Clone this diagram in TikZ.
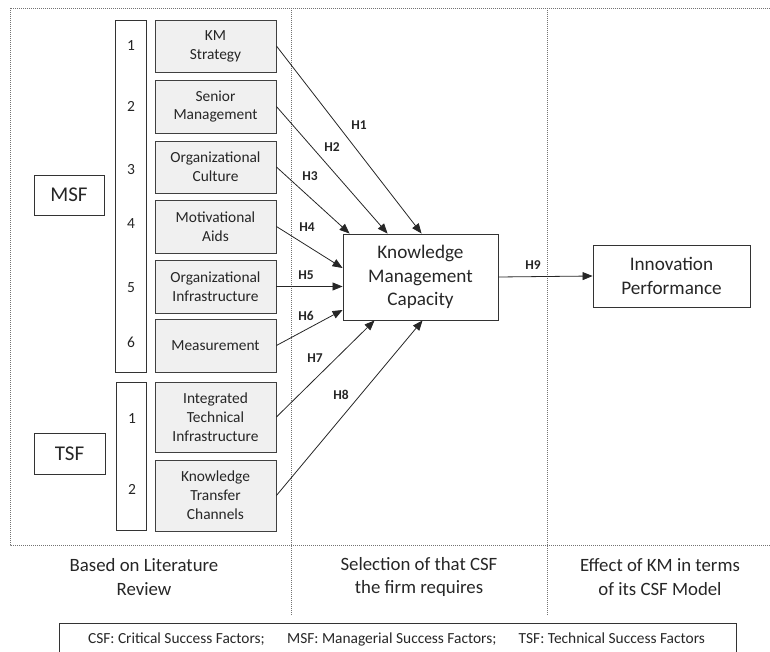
\documentclass[tikz,border=0pt]{standalone}
\usepackage{fontspec}
\setmainfont{Carlito}
\usetikzlibrary{arrows.meta,calc}
\begin{document}
\begin{tikzpicture}[x=1pt,y=-1pt,
  every node/.style={text=black!85},
  factor/.style={draw=black!75, fill=black!6, line width=0.9pt, minimum width=121pt, align=center, inner sep=0pt, font=\fontsize{15.4}{18.8}\selectfont},
  colbox/.style={draw=black!80, line width=0.9pt, minimum width=31pt, inner sep=0pt},
  bigbox/.style={draw=black!80, line width=0.9pt, align=center, inner sep=0pt, font=\fontsize{19.2}{23.5}\selectfont},
  numlab/.style={font=\fontsize{15.5}{18}\selectfont, inner sep=0pt},
  hlab/.style={font=\bfseries\fontsize{13.5}{15}\selectfont, inner sep=0pt},
  arr/.style={-{Triangle[length=10pt,width=8pt]}, line width=0.8pt, draw=black!85},
  sep/.style={draw=black!55, line width=0.8pt, dash pattern=on 1pt off 1pt},
  foot/.style={align=center, font=\fontsize{18.8}{23.5}\selectfont, inner sep=0pt}
]
\useasboundingbox (0,0) rectangle (770,652);

% dotted frame and separators
\draw[sep] (770,8) -- (10,8) -- (10,545) -- (770,545);
\draw[sep] (291,8) -- (291,615);
\draw[sep] (547,8) -- (547,615);

% group labels
\node[bigbox, minimum width=70pt, minimum height=40pt, font=\fontsize{21}{24}\selectfont] (msf) at (69,195) {MSF};
\node[bigbox, minimum width=71pt, minimum height=41pt, font=\fontsize{21}{24}\selectfont] (tsf) at (69.5,453.5) {TSF};

% number columns
\node[colbox, minimum height=352pt] (mcol) at (130.5,196) {};
\node[colbox, minimum width=30pt, minimum height=148pt] (tcol) at (131,456) {};
\node[numlab] (n1) at (131,46) {1};
\node[numlab] (n2) at (131,106) {2};
\node[numlab] (n3) at (131,170) {3};
\node[numlab] (n4) at (131,224) {4};
\node[numlab] (n5) at (131,288) {5};
\node[numlab] (n6) at (131,342) {6};
\node[numlab] (m1) at (132,419) {1};
\node[numlab] (m2) at (132,489) {2};

% factor boxes
\node[factor, minimum height=52pt] (f1) at (215.5,46) {KM\\Strategy};
\node[factor, minimum height=53pt] (f2) at (215.5,106.5) {Senior\\Management};
\node[factor, minimum height=52pt] (f3) at (215.5,167) {Organizational\\Culture};
\node[factor, minimum height=53pt] (f4) at (215.5,226.5) {Motivational\\Aids};
\node[factor, minimum height=53pt] (f5) at (215.5,286.5) {Organizational\\Infrastructure};
\node[factor, minimum height=53pt] (f6) at (215.5,345.5) {Measurement};
\node[factor, minimum height=70pt] (t1) at (215.5,417) {Integrated\\Technical\\Infrastructure};
\node[factor, minimum height=71pt] (t2) at (215.5,495.5) {Knowledge\\Transfer\\Channels};

% central boxes
\node[bigbox, minimum width=155pt, minimum height=86pt] (kmc) at (420.5,277) {Knowledge\\Management\\Capacity};
\node[bigbox, minimum width=157pt, minimum height=62pt] (ip) at (671.5,276) {Innovation\\Performance};

% arrows
\draw[arr] (f1.east) -- ($(kmc.north west)+(79,0)$);
\draw[arr] (f2.east) -- ($(kmc.north west)+(45,0)$);
\draw[arr] (f3.east) -- ($(kmc.north west)+(7,0)$);
\draw[arr] (f4.east) -- ($(kmc.west)+(0,-9)$);
\draw[arr] (f5.east) -- (f5.east -| kmc.west);
\draw[arr] (f6.east) -- ($(kmc.west)+(0,33)$);
\draw[arr] (t1.east) -- ($(kmc.south west)+(32,0)$);
\draw[arr] (t2.east) -- ($(kmc.south west)+(80,0)$);
\draw[arr] (kmc.east) -- (ip.west);

% hypothesis labels
\node[hlab] (h1) at (359,125) {H1};
\node[hlab] (h2) at (332,147) {H2};
\node[hlab] (h3) at (310,176) {H3};
\node[hlab] (h4) at (307,227) {H4};
\node[hlab] (h5) at (306,275) {H5};
\node[hlab] (h6) at (306,316) {H6};
\node[hlab] (h7) at (315,358) {H7};
\node[hlab] (h8) at (341,395) {H8};
\node[hlab] (h9) at (533,265) {H9};

% column captions
\node[foot] (c1) at (144,577) {Based on Literature\\Review};
\node[foot] (c2) at (419,577) {Selection of that CSF\\the firm requires};
\node[foot] (c3) at (660,577) {Effect of KM in terms\\of its CSF Model};

% legend
\draw[draw=black!80, line width=0.9pt] (59,653) -- (59,623) -- (736,623) -- (736,653);
\node[font=\fontsize{15.4}{18}\selectfont, inner sep=0pt] (legend) at (396.5,639) {CSF: Critical Success Factors;\hspace{1.45em}MSF: Managerial Success Factors;\hspace{1.45em}TSF: Technical Success Factors};
\end{tikzpicture}
\end{document}
